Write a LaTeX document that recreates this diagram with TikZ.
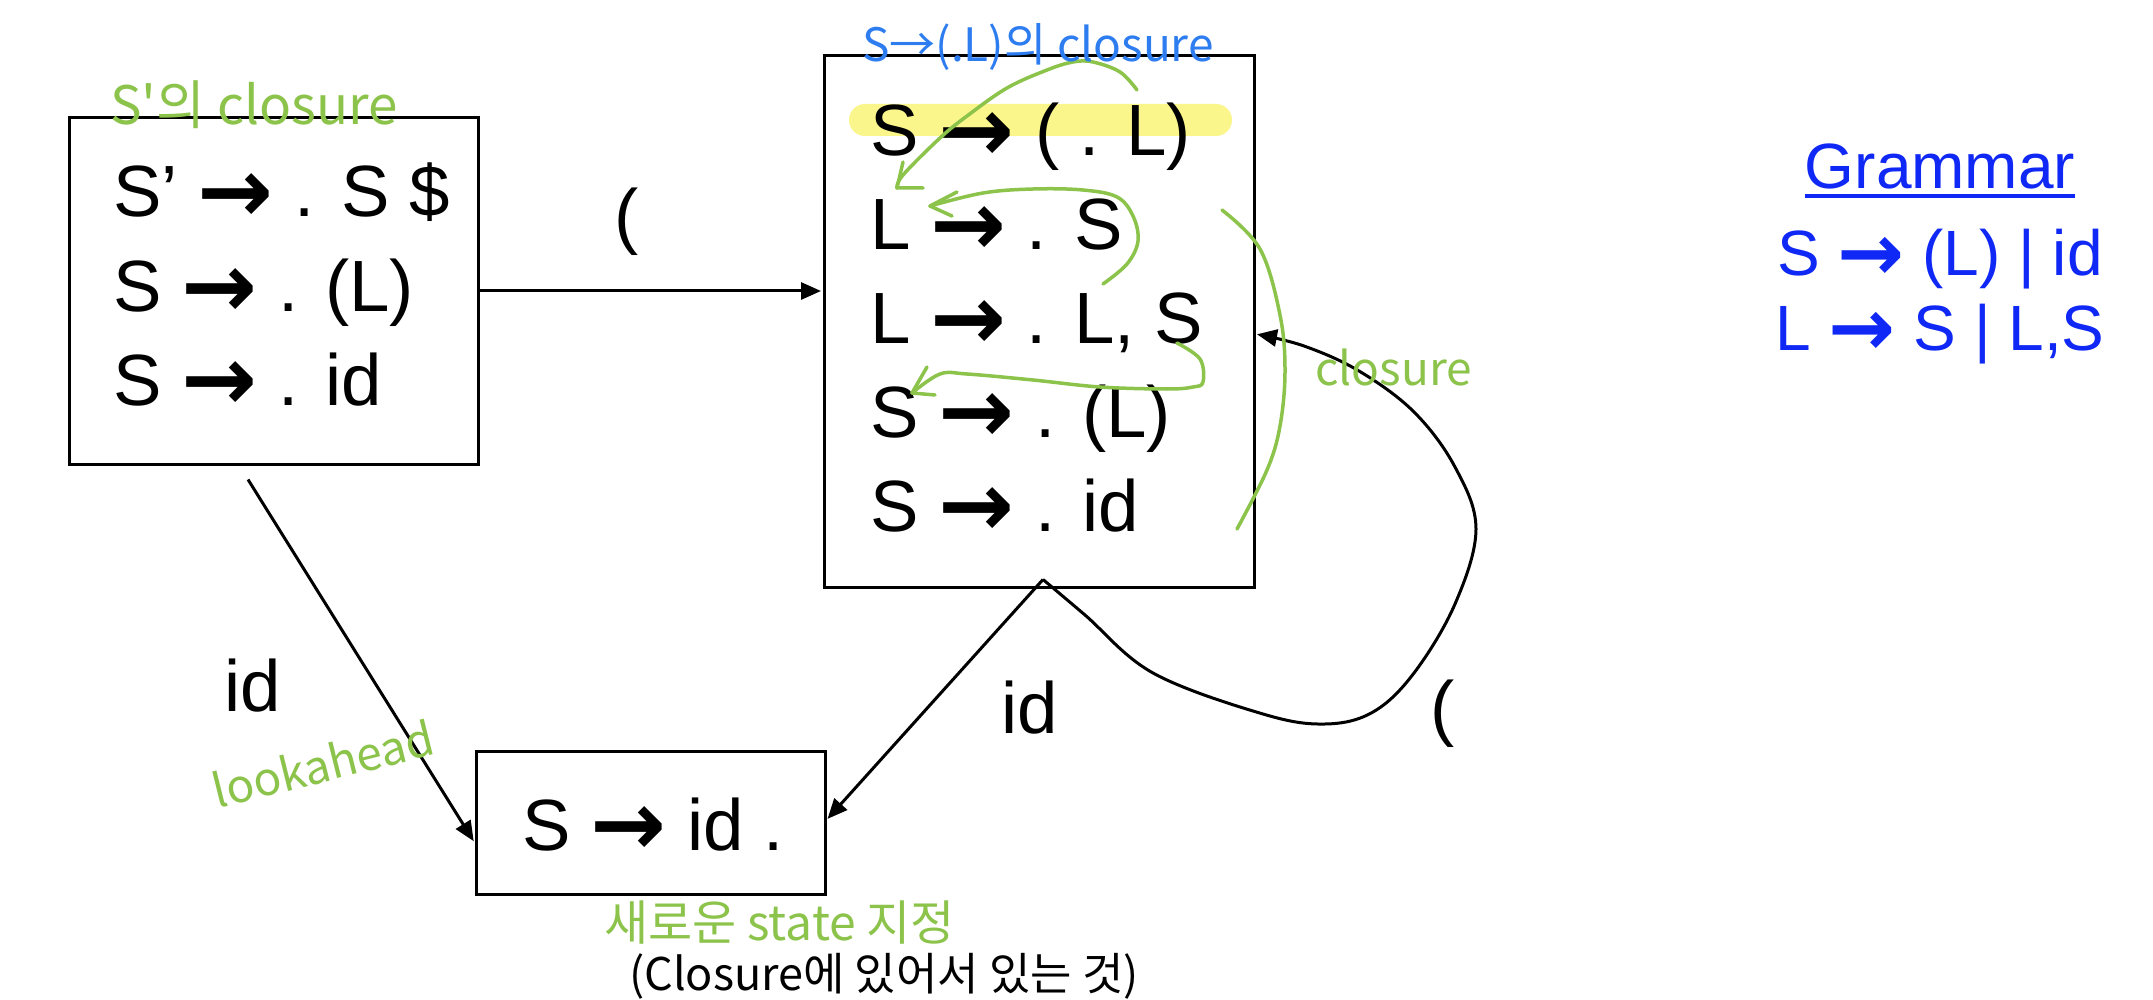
\documentclass[tikz,border=0pt]{standalone}
\usepackage{graphicx}
\usepackage{fontspec}
\setmainfont{Liberation Sans}
\newfontfamily\krfont{Noto Sans CJK KR}
\newfontfamily\arrfont{DejaVu Sans}
\usetikzlibrary{arrows.meta}
\definecolor{hgreen}{RGB}{140,195,75}
\definecolor{hblue}{RGB}{45,125,240}
\definecolor{gblue}{RGB}{16,40,245}
\definecolor{hyellow}{RGB}{250,246,140}
\newcommand\myarr{{\arrfont\bfseries\raisebox{-0.07em}{\scalebox{1.25}{→}}}}
\begin{document}
\begin{tikzpicture}[x=1pt,y=-1pt,
  statebox/.style={draw, line width=3pt, inner sep=0},
  item/.style={inner sep=0, anchor=base west, font=\fontsize{72.6}{80}\selectfont},
  lbl/.style={inner sep=0, font=\fontsize{72.6}{80}\selectfont},
  conn/.style={line width=3pt, -{Triangle[length=20pt,width=17pt]}},
  gram/.style={inner sep=0, anchor=base, text=gblue, font=\fontsize{64}{70}\selectfont},
  hand/.style={inner sep=0, anchor=base west, font=\krfont\fontsize{46}{50}\selectfont},
  greenpen/.style={hgreen, line width=3.5pt, line cap=round, line join=round},
]
\useasboundingbox (0,0) rectangle (2153,1000);
\fill[white] (0,0) rectangle (2153,1000);

% highlight
\fill[hyellow, rounded corners=16pt] (849,104) rectangle (1232,136);

% states
\node[statebox, minimum width=409pt, minimum height=346pt] (b1) at (273.5,291) {};
\node[statebox, minimum width=430pt, minimum height=531pt] (b2) at (1039,321.5) {};
\node[statebox, minimum width=349pt, minimum height=143pt] (b3) at (650.5,822.5) {};

\node[item] (i11) at (113,217) {S’ \myarr{} . S \$};
\node[item] (i12) at (113,312) {S \myarr{} . (L)};
\node[item] (i13) at (113,405) {S \myarr{} . id};

\node[item] (i21) at (870,156) {S \myarr{} ( . L)};
\node[item] (i22) at (870,250) {L \myarr{} . S};
\node[item] (i23) at (870,344) {L \myarr{} . L, S};
\node[item] (i24) at (870,437) {S \myarr{} . (L)};
\node[item] (i25) at (870,531) {S \myarr{} . id};

\node[item] (i31) at (522,850) {S \myarr{} id .};

% edge labels
\node[lbl] (lp1) at (627,222) {(};
\node[lbl, anchor=base west] (lid1) at (224,711) {id};
\node[lbl, anchor=base west] (lid2) at (1001,733) {id};
\node[lbl] (lp2) at (1443,714) {(};

% connectors
\draw[conn, shorten >=1.5pt] (b1.east) -- (b1.east -| b2.west);
\coordinate (s13) at ([xshift=-25.5pt,yshift=-14pt]b1.south);
\coordinate (e13) at ([yshift=-20pt]b3.west);
\draw[conn, shorten >=1.5pt] (s13) -- (e13);
\coordinate (apex) at ([xshift=4pt,yshift=9pt]b2.south);
\coordinate (e23) at ([yshift=2.5pt]b3.east);
\draw[conn, shorten >=1.5pt] (apex) -- (e23);
\coordinate (e22) at ([yshift=-12.5pt]b2.east);
\draw[conn, shorten >=1.5pt] plot[smooth, tension=0.6] coordinates {(apex) (1085,615) (1153,673) (1263,714) (1325,724) (1373,712) (1414,673) (1455,604) (1476,529) (1455,467) (1414,412) (1359,371) (1304,346) (e22)};

% grammar
\node[gram] (gt) at (1940,189) {Grammar};
\draw[gblue, line width=4pt] ([yshift=-7pt]gt.base west) -- ([yshift=-7pt]gt.base east);
\node[gram] (g1) at (1940,276) {S \myarr{} (L) | id};
\node[gram] (g2) at (1940,351) {L \myarr{} S | L,S};

% handwritten green strokes
\draw[greenpen] plot[smooth, tension=0.6] coordinates {(1137,90) (1120,72) (1093,62) (1073,62) (1047,70) (1007,88) (967,116) (940,138) (903,175) (897,188)};
\draw[greenpen] (903,162) -- (897,188) -- (923,188);
\draw[greenpen] plot[smooth, tension=0.6] coordinates {(1103,284) (1127,264) (1138,241) (1133,216) (1117,197) (1083,190) (1033,189) (983,193) (930,206)};
\draw[greenpen] (957,192) -- (930,206) -- (952,216);
\draw[greenpen] plot[smooth, tension=0.6] coordinates {(1177,343) (1200,359) (1203,382) (1193,387) (1167,389) (1100,387) (1033,380) (967,374) (940,374) (912,393)};
\draw[greenpen] (927,367) -- (912,393) -- (935,395);
\draw[greenpen] plot[smooth, tension=0.6] coordinates {(1222,210) (1260,249) (1280,315) (1285,371) (1280,426) (1267,470) (1237,529)};

% handwritten text
\node[hand, text=hgreen, font=\krfont\fontsize{53}{56}\selectfont] (h1) at (110,125) {S'의 closure};
\node[hand, text=hblue] (h2) at (862,62) {S→(.L)의 closure};
\node[hand, text=hgreen] (h3) at (1315,385) {closure};
\node[hand, text=hgreen, anchor=center, rotate=14] (h4) at (323,764) {lookahead};
\node[hand, text=hgreen, font=\krfont\fontsize{48}{52}\selectfont] (h5) at (604,940) {새로운 state 지정};
\node[hand, font=\krfont\fontsize{45}{50}\selectfont] (h6) at (629,990) {(Closure에 있어서 있는 것)};
\end{tikzpicture}
\end{document}
